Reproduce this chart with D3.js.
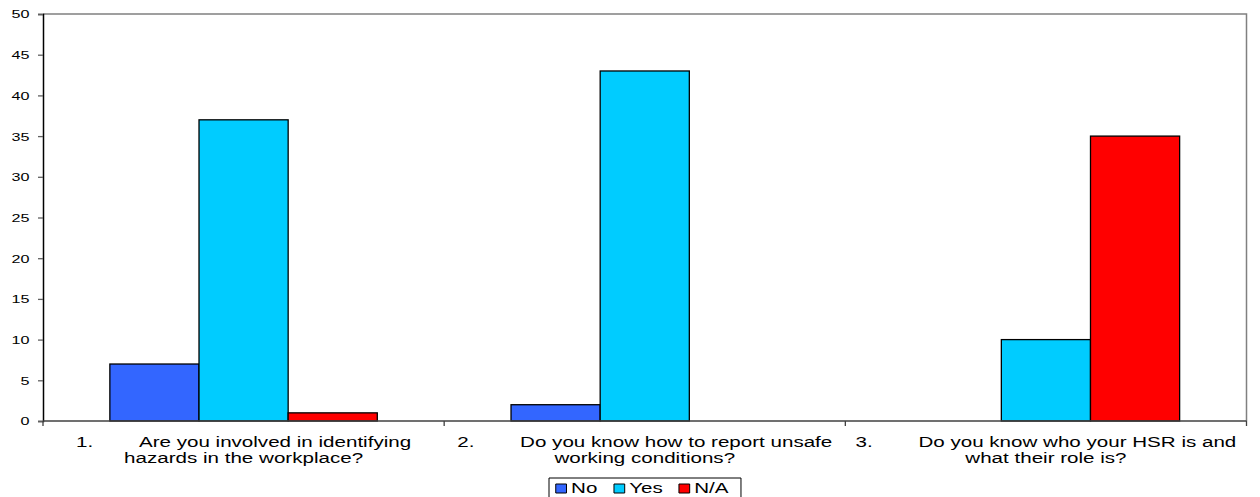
<!DOCTYPE html>
<html>
<head>
<meta charset="utf-8">
<script src="https://cdn.jsdelivr.net/npm/d3@7"></script>
<style>
  body { margin: 0; background: #fff; }
  text { font-family: Arial, "Liberation Sans", sans-serif; fill: #000; }
</style>
</head>
<body>
<div class="canvas"></div>
<script>
// chart data
var categories = ['1.', '2.', '3.'];
var labelLine1 = ['Are you involved in identifying', 'Do you know how to report unsafe', 'Do you know who your HSR is and'];
var labelLine2 = ['hazards in the workplace?', 'working conditions?', 'what their role is?'];
var seriesNames = ['No', 'Yes', 'N/A'];
var seriesColors = ['#3366FF', '#00CCFF', '#FF0000'];
var noValues = [7, 2, 0];
var yesValues = [37, 43, 10];
var naValues = [1, 0, 35];
var yTicks = [0, 5, 10, 15, 20, 25, 30, 35, 40, 45, 50];

var width = 1260, height = 497;
var plotLeft = 43, plotRight = 1246.5, plotTop = 14, plotBottom = 421;
var stretch = 1.47; // text in the picture is wide

var svg = d3.select('.canvas')
            .append('svg')
              .attr('width', width)
                .attr('height', height);

var x0 = d3.scaleBand().domain(categories).range([plotLeft, plotRight]);
var x1 = d3.scaleBand().domain(seriesNames).range([0, x0.bandwidth()]).paddingInner(0).paddingOuter(0.75);
var y = d3.scaleLinear().domain([0, 50]).range([plotBottom, plotTop]);

var allValues = [noValues, yesValues, naValues];

// plot border (top + right), grey
svg.append('path')
   .attr('d', 'M' + plotLeft + ',' + plotTop + 'H' + plotRight + 'V' + plotBottom)
   .attr('fill', 'none')
   .attr('stroke', '#808080')
   .attr('stroke-width', 1.5);

// bars
var groups = svg.selectAll('.cat')
   .data(categories)
   .enter()
     .append('g')
       .attr('class', 'cat')
       .attr('transform', function(d){ return 'translate(' + x0(d) + ',0)'; });

groups.selectAll('rect')
   .data(function(d, i){
     return seriesNames.map(function(s, j){ return { s: s, j: j, v: allValues[j][i] }; })
                       .filter(function(e){ return e.v > 0; });
   })
   .enter()
     .append('rect')
       .attr('x', function(d){ return x1(d.s); })
       .attr('y', function(d){ return y(d.v); })
       .attr('width', x1.bandwidth())
       .attr('height', function(d){ return y(0) - y(d.v); })
       .attr('fill', function(d){ return seriesColors[d.j]; })
       .attr('stroke', '#000')
       .attr('stroke-width', 1.3);

// y axis
var yAxis = svg.append('g')
   .attr('transform', 'translate(' + plotLeft + ',0)')
   .call(d3.axisLeft(y).tickValues(yTicks).tickSize(5).tickFormat(d3.format('d')));
yAxis.select('.domain').attr('stroke', '#000').attr('stroke-width', 1.5);
yAxis.selectAll('.tick line').attr('stroke', '#606060').attr('stroke-width', 1.3);
yAxis.selectAll('.tick text')
   .attr('x', null)
   .attr('dy', null)
   .attr('font-size', 11)
   .attr('font-family', 'Arial, "Liberation Sans", sans-serif')
   .attr('fill', '#000')
   .attr('text-anchor', 'end')
   .attr('dominant-baseline', 'central')
   .attr('transform', 'translate(-13.5,0) scale(' + stretch + ',1)');

// x axis line + ticks at category boundaries
svg.append('line')
   .attr('x1', plotLeft).attr('x2', plotRight)
   .attr('y1', y(0)).attr('y2', y(0))
   .attr('stroke', '#404040').attr('stroke-width', 1.5);

var boundaries = categories.map(function(c){ return x0(c); }).concat([plotRight]);
svg.selectAll('.xtick')
   .data(boundaries)
   .enter()
     .append('line')
       .attr('x1', function(d){ return d; }).attr('x2', function(d){ return d; })
       .attr('y1', y(0)).attr('y2', y(0) + 5)
       .attr('stroke', '#404040').attr('stroke-width', 1.3);

// category labels, two lines, centred
var spaces = '\u00a0\u00a0\u00a0\u00a0\u00a0\u00a0\u00a0\u00a0';
categories.forEach(function(c, i){
  var cx = x0(c) + x0.bandwidth() / 2;
  svg.append('text')
     .attr('transform', 'translate(' + cx + ',447) scale(' + stretch + ',1)')
     .attr('text-anchor', 'middle')
     .attr('font-size', 14)
     .text(c + spaces + labelLine1[i]);
  svg.append('text')
     .attr('transform', 'translate(' + cx + ',463) scale(' + stretch + ',1)')
     .attr('text-anchor', 'middle')
     .attr('font-size', 14)
     .text(labelLine2[i]);
});

// legend
var legend = svg.append('g')
   .attr('transform', 'translate(549,478) scale(' + stretch + ',1)');
legend.append('rect')
   .attr('x', 0).attr('y', 0)
   .attr('width', 130.6).attr('height', 24)
   .attr('fill', '#fff')
   .attr('stroke', '#000')
   .attr('stroke-width', 1)
   .attr('vector-effect', 'non-scaling-stroke');
var legendX = [4.6, 44.2, 88.4];
var items = legend.selectAll('.item')
   .data(seriesNames)
   .enter()
     .append('g')
       .attr('class', 'item')
       .attr('transform', function(d, i){ return 'translate(' + legendX[i] + ',0)'; });
items.append('rect')
   .attr('x', 0).attr('y', 6)
   .attr('width', 7.3).attr('height', 9)
   .attr('fill', function(d, i){ return seriesColors[i]; })
   .attr('stroke', '#000')
   .attr('stroke-width', 1)
   .attr('vector-effect', 'non-scaling-stroke');
items.append('text')
   .attr('x', 10.4).attr('y', 15.5)
   .attr('font-size', 14)
   .text(function(d){ return d; });
</script>
</body>
</html>
